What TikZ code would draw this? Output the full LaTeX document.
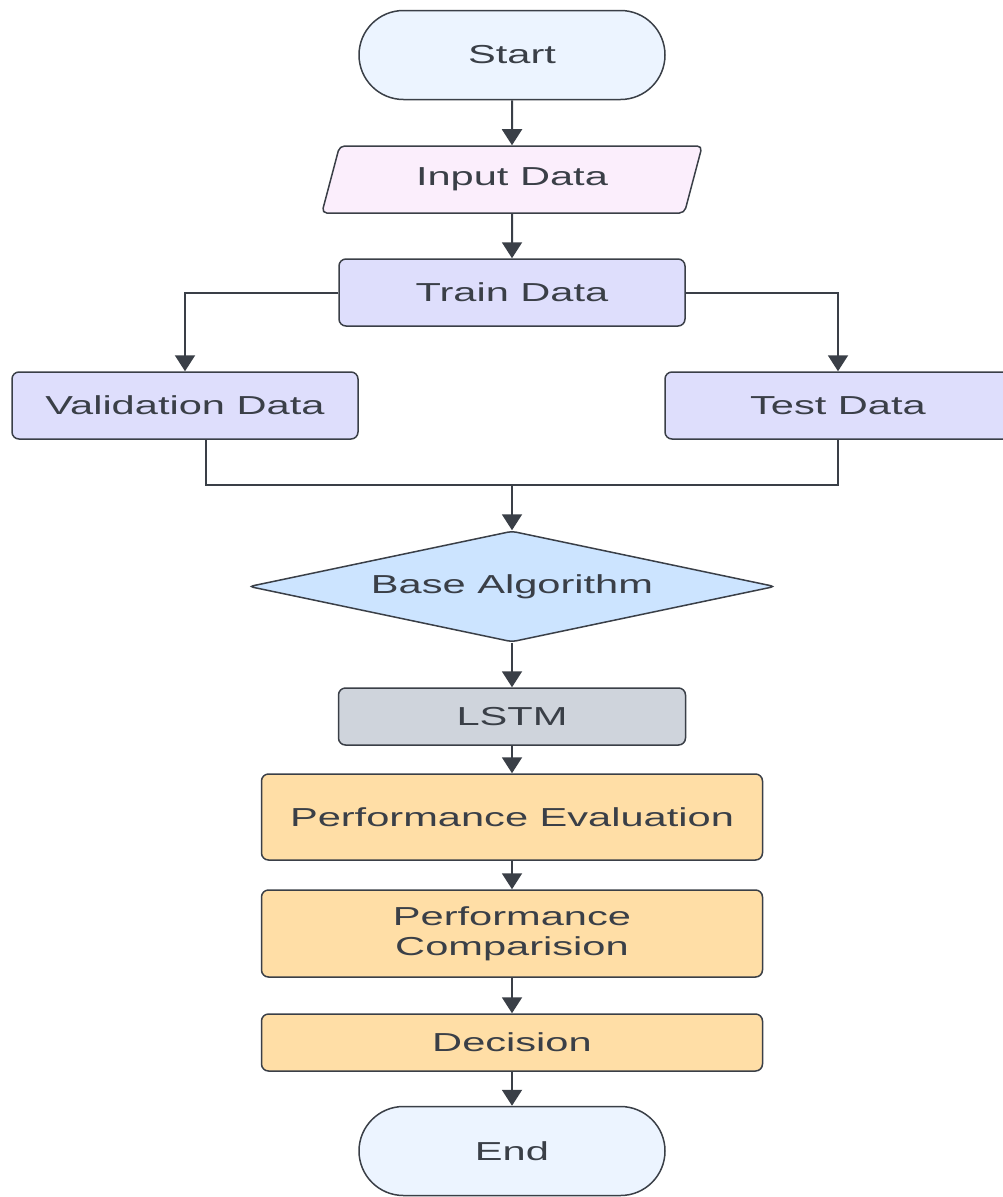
\documentclass[tikz,border=0pt]{standalone}
\usepackage{fontspec}
\setmainfont{Liberation Sans}[FakeStretch=1.6]
\usetikzlibrary{arrows.meta,shapes.geometric,shapes.misc}

\definecolor{flowline}{RGB}{58,63,71}
\definecolor{termfill}{RGB}{236,244,255}
\definecolor{inputfill}{RGB}{251,238,252}
\definecolor{datafill}{RGB}{222,222,252}
\definecolor{algofill}{RGB}{204,228,255}
\definecolor{lstmfill}{RGB}{207,212,220}
\definecolor{evalfill}{RGB}{255,222,166}

\tikzset{every picture/.style={line width=1.5pt}}
\tikzset{
  flowtext/.style={draw=flowline, text=flowline, inner sep=0pt, align=center,
    font=\fontsize{26}{30}\selectfont},
  terminal/.style={flowtext, rounded rectangle, fill=termfill,
    minimum width=306pt, minimum height=89pt},
  inout/.style={flowtext, trapezium, trapezium left angle=67, trapezium right angle=113,
    trapezium stretches=true, rounded corners=5pt, fill=inputfill,
    minimum width=381pt, minimum height=67pt},
  process/.style={flowtext, rectangle, rounded corners=7pt},
  databox/.style={process, fill=datafill, minimum width=346pt, minimum height=67pt},
  decision/.style={flowtext, diamond, aspect=4.7, rounded corners=4pt, fill=algofill,
    minimum width=526pt, minimum height=111pt},
  flowarrow/.style={draw=flowline, line width=2pt, -{Triangle[length=16pt,width=20pt]}},
  flowjoin/.style={draw=flowline, line width=1.5pt}
}

\begin{document}
\begin{tikzpicture}[x=1pt,y=1pt,yscale=-1]
%set diagram to the size of the reference
\useasboundingbox (0,0) rectangle (1002,1197);

%Shape: Terminal [start]
\node[terminal] (start) at (512,55) {Start};
%Shape: Parallelogram [input]
\node[inout] (indata) at (512,179.5) {Input Data};
%Shape: Rectangle [train, validation, test]
\node[databox] (train) at (512,292.5) {Train Data};
\node[databox] (valid) at (185,405.5) {Validation Data};
\node[databox] (test) at (838,405.5) {Test Data};
%Shape: Diamond [base algorithm]
\node[decision] (base) at (512,586.5) {Base Algorithm};
%Shape: Rectangle [model and evaluation]
\node[process, fill=lstmfill, minimum width=347pt, minimum height=57pt] (lstm) at (512,716.5) {LSTM};
\node[process, fill=evalfill, minimum width=501pt, minimum height=86pt] (perfeval) at (512,817) {Performance Evaluation};
\node[process, fill=evalfill, minimum width=501pt, minimum height=87pt] (perfcomp) at (512,933.5) {Performance\\Comparision};
\node[process, fill=evalfill, minimum width=501pt, minimum height=57pt] (decide) at (512,1042.5) {Decision};
%Shape: Terminal [stop]
\node[terminal] (stop) at (512,1151) {End};

%Straight Lines
\draw[flowarrow] (start.south) -- (indata.north);
\draw[flowarrow] (indata.south) -- (train.north);
\draw[flowarrow] (train.west) -| (valid.north);
\draw[flowarrow] (train.east) -| (test.north);
%Straight Lines [merge]
\coordinate (join) at (512,485);
\draw[flowjoin] ([xshift=21pt]valid.south) |- (join);
\draw[flowjoin] (test.south) |- (join);
\draw[flowarrow] (join) -- (base.north);
\draw[flowarrow] (base.south) -- (lstm.north);
\draw[flowarrow] (lstm.south) -- (perfeval.north);
\draw[flowarrow] (perfeval.south) -- (perfcomp.north);
\draw[flowarrow] (perfcomp.south) -- (decide.north);
\draw[flowarrow] (decide.south) -- (stop.north);

\end{tikzpicture}
\end{document}
